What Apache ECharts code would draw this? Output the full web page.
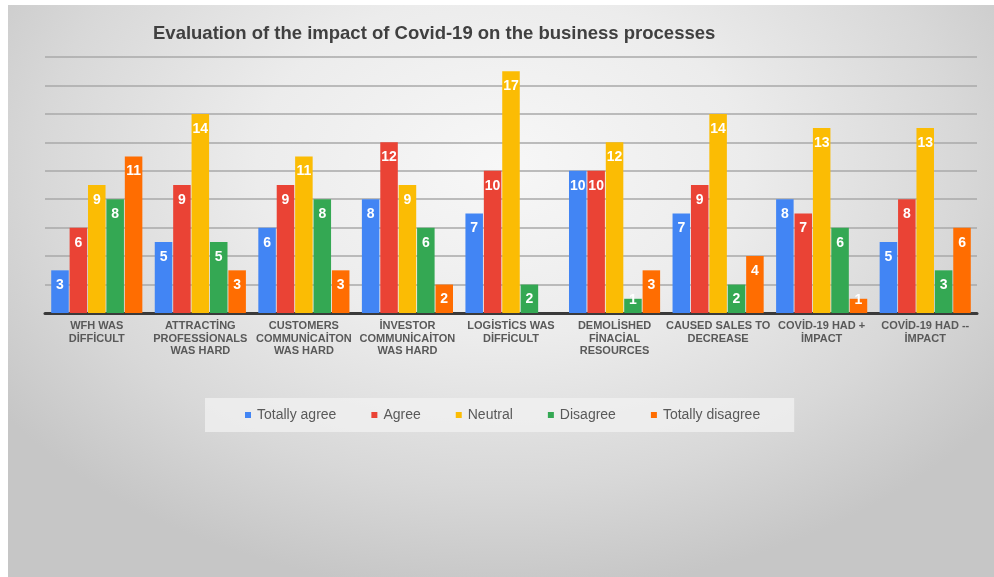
<!DOCTYPE html>
<html>
<head>
<meta charset="utf-8">
<script src="https://cdn.jsdelivr.net/npm/echarts@6/dist/echarts.min.js"></script>
<style>
  html, body { margin: 0; padding: 0; background: #ffffff; width: 994px; height: 577px; overflow: hidden; }
  #chart {
    position: absolute; left: 8px; top: 5px; width: 986px; height: 572px;
    background: radial-gradient(ellipse 62% 75% at 50% 28%, #f7f7f7 0%, #ececec 40%, #d8d8d8 75%, #c6c6c6 100%);
  }
</style>
</head>
<body>
<div id="chart"></div>
<script>
// Survey categories (axis labels, upper-case with Turkish dotted İ)
const categories = [
  'WFH WAS\nDİFFİCULT',
  'ATTRACTİNG\nPROFESSİONALS\nWAS HARD',
  'CUSTOMERS\nCOMMUNİCAİTON\nWAS HARD',
  'İNVESTOR\nCOMMUNİCAİTON\nWAS HARD',
  'LOGİSTİCS WAS\nDİFFİCULT',
  'DEMOLİSHED\nFİNACİAL\nRESOURCES',
  'CAUSED SALES TO\nDECREASE',
  'COVİD-19 HAD +\nİMPACT',
  'COVİD-19 HAD --\nİMPACT'
];

// Number of answers per response option
const totallyAgree    = [3, 5, 6, 8, 7, 10, 7, 8, 5];
const agree           = [6, 9, 9, 12, 10, 10, 9, 7, 8];
const neutral         = [9, 14, 11, 9, 17, 12, 14, 13, 13];
const disagree        = [8, 5, 8, 6, 2, 1, 2, 6, 3];
const totallyDisagree = [11, 3, 3, 2, 0, 3, 4, 1, 6];

const seriesNames  = ['Totally agree', 'Agree', 'Neutral', 'Disagree', 'Totally disagree'];
const seriesData   = [totallyAgree, agree, neutral, disagree, totallyDisagree];
const seriesColors = ['#4285F4', '#EA4335', '#FBBC04', '#34A853', '#FF6D01'];

const chart = echarts.init(document.getElementById('chart'), null, { renderer: 'canvas' });

// Bars too short to hold their label get it nudged up over the bar top
const toItems = values => values.map(v =>
  v > 0 && v < 2 ? { value: v, label: { position: 'top', distance: -8 } } : v
);

const series = seriesNames.map((name, i) => ({
  name: name,
  type: 'bar',
  data: toItems(seriesData[i]),
  barGap: '5%',
  barCategoryGap: '12%',
  itemStyle: { color: seriesColors[i] },
  label: {
    show: true,
    position: 'insideTop',
    distance: 8,
    color: '#ffffff',
    fontFamily: 'Liberation Sans, Arial, sans-serif',
    fontWeight: 'bold',
    fontSize: 14,
    formatter: p => (p.value === 0 ? '' : String(p.value))
  }
}));

chart.setOption({
  backgroundColor: 'transparent',
  animation: false,
  title: {
    text: 'Evaluation of the impact of Covid-19 on the business processes',
    left: 140,
    top: 14,
    textStyle: {
      fontFamily: 'Liberation Sans, Arial, sans-serif',
      fontSize: 18.5,
      fontWeight: 'bold',
      color: '#404040'
    }
  },
  legend: {
    data: seriesNames,
    left: 197,
    top: 393,
    icon: 'rect',
    itemWidth: 6,
    itemHeight: 6,
    itemGap: 35,
    padding: [10, 34, 10, 40],
    backgroundColor: 'rgba(242,242,242,0.75)',
    textStyle: {
      fontFamily: 'Liberation Sans, Arial, sans-serif',
      fontSize: 14,
      color: '#595959',
      padding: [0, 0, 0, 1]
    }
  },
  grid: {
    left: 37,
    right: 17,
    top: 52,
    bottom: 264,
    containLabel: false
  },
  xAxis: {
    type: 'category',
    data: categories,
    axisLine: { show: true, lineStyle: { color: '#3a3a3a', width: 3 } },
    axisTick: { show: false },
    axisLabel: {
      interval: 0,
      margin: 7,
      fontFamily: 'Liberation Sans, Arial, sans-serif',
      fontSize: 11,
      fontWeight: 'bold',
      color: '#595959',
      lineHeight: 12.5
    }
  },
  yAxis: {
    type: 'value',
    min: 0,
    max: 18,
    interval: 2,
    axisLabel: { show: false },
    axisLine: { show: false },
    axisTick: { show: false },
    splitLine: { lineStyle: { color: '#a8a8a8', width: 1.5 } }
  },
  series: series
});
</script>
</body>
</html>
